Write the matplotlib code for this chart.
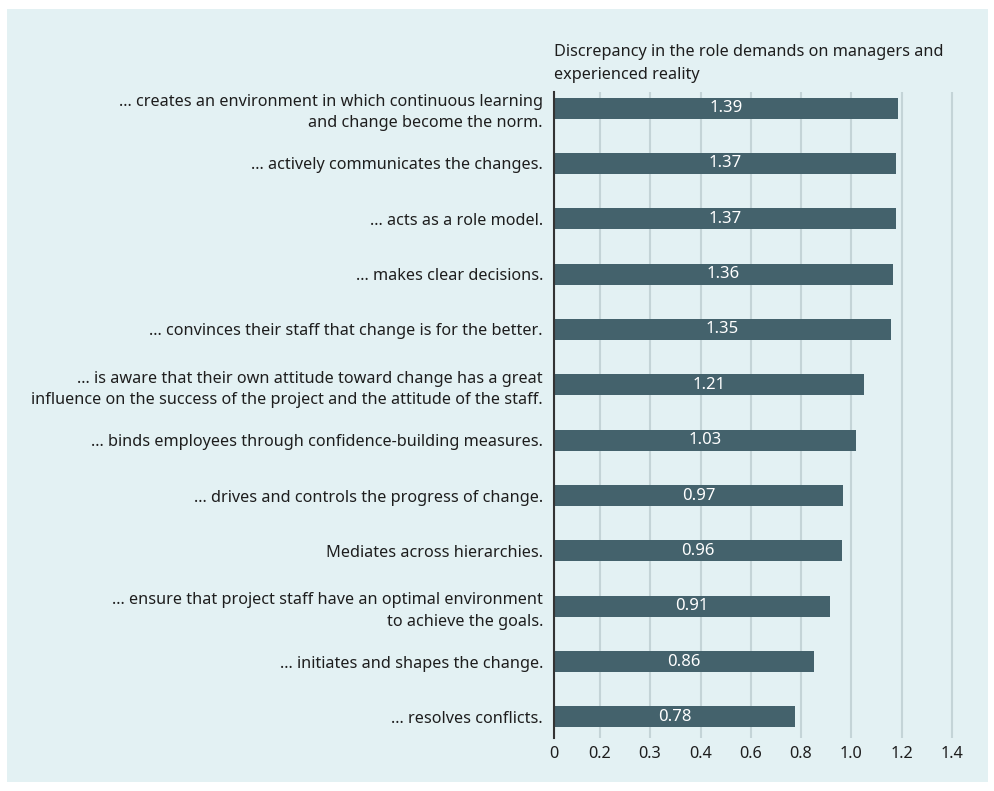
import numpy as np
import matplotlib
matplotlib.use("Agg")
import matplotlib.pyplot as plt
from matplotlib.patches import Rectangle

plt.rcParams['font.family'] = ['Noto Sans', 'DejaVu Sans']

# Datos
items = [
    "... creates an environment in which continuous learning\nand change become the norm.",
    "... actively communicates the changes.",
    "... acts as a role model.",
    "... makes clear decisions.",
    "... convinces their staff that change is for the better.",
    "... is aware that their own attitude toward change has a great\ninfluence on the success of the project and the attitude of the staff.",
    "... binds employees through confidence-building measures.",
    "... drives and controls the progress of change.",
    "Mediates across hierarchies.",
    "... ensure that project staff have an optimal environment\nto achieve the goals.",
    "... initiates and shapes the change.",
    "... resolves conflicts.",
]
value_labels = [1.39, 1.37, 1.37, 1.36, 1.35, 1.21, 1.03, 0.97, 0.96, 0.91, 0.86, 0.78]
# longitud dibujada de cada barra, en unidades del eje tal como aparece
bar_lengths = [1.184, 1.176, 1.176, 1.165, 1.157, 1.051, 1.020, 0.968, 0.964, 0.916, 0.852, 0.776]
tick_values = [0, 0.2, 0.3, 0.4, 0.6, 0.8, 1.0, 1.2, 1.4]
tick_labels = ["0", "0.2", "0.3", "0.4", "0.6", "0.8", "1.0", "1.2", "1.4"]

# Escala del eje: marcas casi equidistantes aunque los valores no lo sean
scale_vals = np.array(tick_values + [1.6])
scale_pos = np.array([0, 46, 96, 147, 197, 247, 297, 348, 398, 448]) / 50.0


def fwd(x):
    return np.interp(x, scale_vals, scale_pos)


def inv(p):
    return np.interp(p, scale_pos, scale_vals)


bg = "#e3f1f3"
bar_color = "#44626c"
text_color = "#1e1e1e"

fig = plt.figure(figsize=(9.95, 7.91), dpi=100, facecolor="white")
fig.patches.append(Rectangle((7 / 995, 9 / 791), 981 / 995, 773 / 791,
                             transform=fig.transFigure, facecolor=bg,
                             edgecolor="none", zorder=-10))

ax = fig.add_axes([554 / 995, 1 - 738 / 791, 421 / 995, 646 / 791])
ax.set_zorder(2)
ax.patch.set_alpha(0)
ax.set_xscale('function', functions=(fwd, inv))

y = np.arange(len(items))
ax.barh(y, bar_lengths, height=0.38, color=bar_color, zorder=3)

for yi, length, lab in zip(y, bar_lengths, value_labels):
    mid = inv(fwd(length) / 2)
    ax.text(mid, yi, f"{lab:.2f}", ha="center", va="center",
            color="white", fontsize=12, zorder=4)

ax.set_ylim(11.38, -0.29)
ax.set_xlim(0, inv(421 / 50.0))
ax.set_yticks(y)
ax.set_yticklabels(items, fontsize=11.7, color=text_color, linespacing=1.45)
ax.set_xticks(tick_values)
ax.set_xticklabels(tick_labels, fontsize=11.7, color=text_color)
ax.tick_params(axis='both', length=0)
ax.tick_params(axis='y', pad=8)
ax.tick_params(axis='x', pad=6)
ax.xaxis.grid(True, color="#c4d4d7", linewidth=1.5, zorder=0)
ax.set_axisbelow(True)

for s in ["top", "right", "bottom"]:
    ax.spines[s].set_visible(False)
ax.spines["left"].set_color("#333333")
ax.spines["left"].set_linewidth(1.5)
ax.spines["left"].set_zorder(5)

fig.text(554 / 995, 1 - 44 / 791,
         "Discrepancy in the role demands on managers and\nexperienced reality",
         ha="left", va="top", fontsize=11.7, color=text_color, linespacing=1.55)

plt.savefig("out.png", dpi=100, facecolor="white")
